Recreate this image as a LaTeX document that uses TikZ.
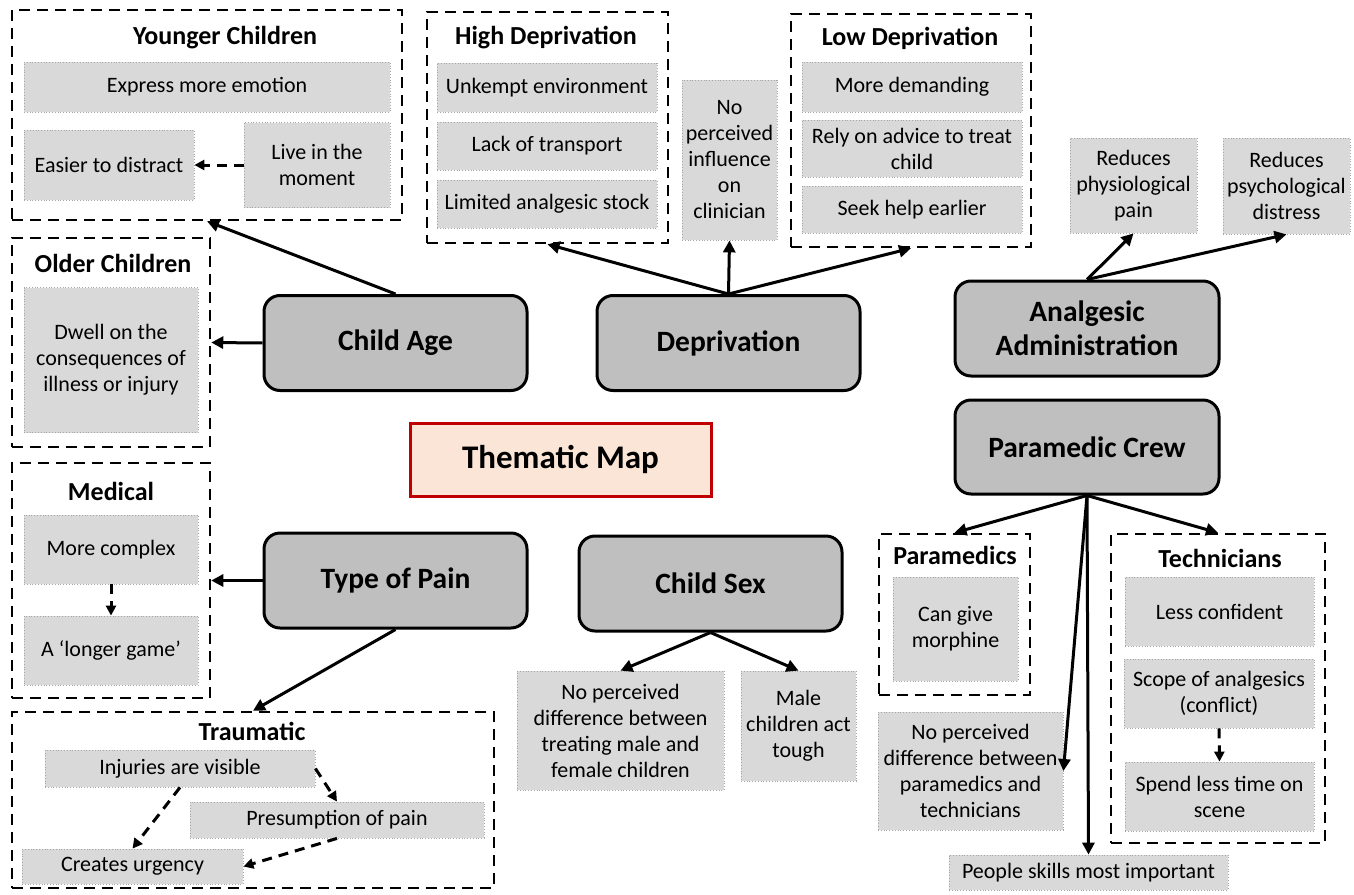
\documentclass[tikz,border=0pt]{standalone}
\usepackage{fontspec}
\setmainfont{Carlito}
\usepackage{tikz}
\usetikzlibrary{arrows.meta}
\definecolor{themegray}{HTML}{BFBFBF}
\definecolor{itemgray}{HTML}{D9D9D9}
\definecolor{itemline}{HTML}{A6A6A6}
\definecolor{mapfill}{HTML}{FBE5D6}
\definecolor{mapline}{HTML}{C00000}

\begin{document}
\begin{tikzpicture}[x=1pt,y=-1pt]
    \tikzstyle{theme}=[draw,line width=3pt,rounded corners=16pt,fill=themegray,align=center,font=\bfseries\fontsize{29.5}{34}\selectfont,minimum width=263,minimum height=95]
    \tikzstyle{group}=[draw,line width=2.5pt,dash pattern=on 11pt off 7pt]
    \tikzstyle{grouptitle}=[font=\bfseries\fontsize{26}{30}\selectfont]
    \tikzstyle{item}=[draw=itemline,line width=0.8pt,dotted,fill=itemgray,align=center,inner sep=0pt,font=\fontsize{22}{26}\selectfont]
    \tikzstyle{edge}=[draw,line width=3pt,-{Triangle[length=12pt,width=12pt]}]
    \tikzstyle{dashedge}=[draw,line width=3pt,dash pattern=on 10pt off 7pt,-{Triangle[length=10pt,width=10pt]}]

    \useasboundingbox (0,0) rectangle (1354,894);

    \node[draw=mapline,fill=mapfill,line width=3pt,minimum width=301,minimum height=73,font=\bfseries\fontsize{33}{38}\selectfont] (map) at (560.5,459.5) {Thematic Map};

    \node[theme] (age) at (395.5,343) {Child Age};
    \node[theme] (dep) at (728.5,343) {Deprivation};
    \node[theme] (pain) at (395.5,580.5) {Type of Pain};
    \node[theme] (sex) at (710.5,583.5) {Child Sex};
    \node[theme,minimum width=264] (anal) at (1087,328.5) {Analgesic\\Administration};
    \node[theme,minimum width=264,minimum height=94] (crew) at (1087,447) {Paramedic Crew};

    \node[group,minimum width=390,minimum height=210] (young) at (207,115) {};
    \node[grouptitle] (youngt) at (225,38) {Younger Children};
    \node[item,minimum width=366,minimum height=50] (express) at (207,87) {Express more emotion};
    \node[item,minimum width=170,minimum height=70] (distract) at (109,165) {Easier to distract};
    \node[item,minimum width=146,minimum height=85] (moment) at (317,165) {Live in the\\moment};

    \node[group,minimum width=198,minimum height=209] (old) at (111,342.5) {};
    \node[grouptitle] (oldt) at (113,263) {Older Children};
    \node[item,minimum width=174,minimum height=145] (dwell) at (111,360) {Dwell on the\\consequences of\\illness or injury};

    \node[group,minimum width=241,minimum height=231] (highdep) at (547.5,127.5) {};
    \node[grouptitle] (highdept) at (546,38) {High Deprivation};
    \node[item,minimum width=220,minimum height=49] (unkempt) at (547,87.5) {Unkempt environment};
    \node[item,minimum width=220,minimum height=48] (transport) at (547,146) {Lack of transport};
    \node[item,minimum width=220,minimum height=48] (stock) at (547,204) {Limited analgesic stock};

    \node[item,minimum width=95,minimum height=160] (influence) at (729.5,160) {No\\perceived\\influence\\on\\clinician};

    \node[group,minimum width=240,minimum height=233] (lowdep) at (911,130.5) {};
    \node[grouptitle] (lowdept) at (910,38) {Low Deprivation};
    \node[item,minimum width=220,minimum height=50] (demanding) at (912,87) {More demanding};
    \node[item,minimum width=220,minimum height=57] (advice) at (912,148.5) {Rely on advice to treat\\child};
    \node[item,minimum width=220,minimum height=47] (earlier) at (912,209.5) {Seek help earlier};

    \node[item,minimum width=127,minimum height=95] (phys) at (1133.5,185.5) {Reduces\\physiological\\pain};
    \node[item,minimum width=127,minimum height=96] (psych) at (1286.5,186) {Reduces\\psychological\\distress};

    \node[group,minimum width=151,minimum height=161] (para) at (954.5,614.5) {};
    \node[grouptitle] (parat) at (955,555) {Paramedics};
    \node[item,minimum width=125,minimum height=104] (morphine) at (955.5,629) {Can give\\morphine};

    \node[item,minimum width=185,minimum height=118] (nodiff) at (970.5,771) {No perceived\\difference between\\paramedics and\\technicians};
    \node[item,minimum width=279,minimum height=35] (skills) at (1088.5,872.5) {People skills most important};

    \node[group,minimum width=214,minimum height=309] (tech) at (1218,688.5) {};
    \node[grouptitle] (techt) at (1220,558) {Technicians};
    \node[item,minimum width=189,minimum height=69] (confident) at (1219.5,611.5) {Less confident};
    \node[item,minimum width=190,minimum height=69] (scope) at (1219,693.5) {Scope of analgesics\\(conflict)};
    \node[item,minimum width=189,minimum height=69] (scene) at (1219.5,796.5) {Spend less time on\\scene};

    \node[group,minimum width=198,minimum height=235] (medical) at (111,580.5) {};
    \node[grouptitle] (medicalt) at (111,491) {Medical};
    \node[item,minimum width=174,minimum height=69] (complex) at (111,549.5) {More complex};
    \node[item,minimum width=174,minimum height=69] (longgame) at (111,650.5) {A ‘longer game’};

    \node[group,minimum width=482,minimum height=176] (trauma) at (253,800) {};
    \node[grouptitle] (traumat) at (252,731) {Traumatic};
    \node[item,minimum width=270,minimum height=37] (visible) at (180,768.5) {Injuries are visible};
    \node[item,minimum width=294,minimum height=36] (presume) at (337,820) {Presumption of pain};
    \node[item,minimum width=221,minimum height=35] (urgency) at (132.5,866.5) {Creates urgency};

    \node[item,minimum width=207,minimum height=119] (treating) at (620.5,730.5) {No perceived\\difference between\\treating male and\\female children};
    \node[item,minimum width=115,minimum height=110] (tough) at (798.5,726) {Male\\children act\\tough};

    \path[edge] (age.north) -- (young.south);
    \path[edge] (age.west) -- (old.east);
    \path[edge] (dep.north) -- (highdep.south);
    \path[edge] (dep.north) -- (influence.south);
    \path[edge] (dep.north) -- (lowdep.south);
    \path[edge] (anal.north) -- (phys.south);
    \path[edge] (anal.north) -- (psych.south);
    \path[edge] (crew.south) -- (para.north);
    \path[edge] (crew.south) -- (nodiff.east);
    \path[edge] (crew.south) -- (skills.north);
    \path[edge] (crew.south) -- (tech.north);
    \path[edge] (pain.west) -- (medical.east);
    \path[edge] (pain.south) -- (trauma.north);
    \path[edge] (sex.south) -- (treating.north);
    \path[edge] (sex.south) -- (tough.north);

    \path[dashedge] (moment.west) -- (distract.east);
    \path[dashedge] (complex.south) -- (longgame.north);
    \path[dashedge] (scope.south) -- (scene.north);
    \path[dashedge] (visible.east) -- (presume.north);
    \path[dashedge] (visible.south) -- (urgency.north);
    \path[dashedge] (presume.south) -- (urgency.east);

\end{tikzpicture}
\end{document}
